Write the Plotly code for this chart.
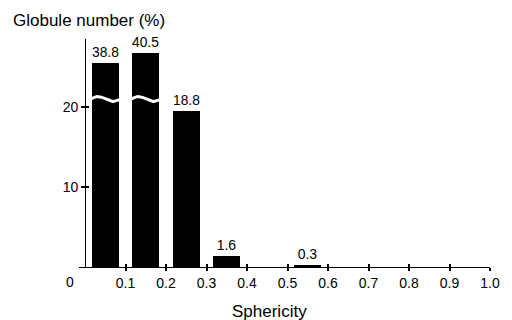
import numpy as np
import plotly.graph_objects as go

# ---- data ----
bin_centers = [0.05, 0.15, 0.25, 0.35, 0.55]
bar_heights_drawn = [25.5, 26.8, 19.5, 1.4, 0.3]   # heights as drawn (axis broken above ~21)
bar_labels = ["38.8", "40.5", "18.8", "1.6", "0.3"]
broken_bars = [0, 1]                                # bars interrupted by the axis break
break_level = 21.0
x_tick_vals = [0.1, 0.2, 0.3, 0.4, 0.5, 0.6, 0.7, 0.8, 0.9, 1.0]
x_tick_text = ["0.1", "0.2", "0.3", "0.4", "0.5", "0.6", "0.7", "0.8", "0.9", "1.0"]
y_tick_vals = [10, 20]
y_tick_text = ["10", "20"]
x_title = "Sphericity"
y_title = "Globule number (%)"

FONT = "Liberation Sans, Arial, sans-serif"
bar_width = 0.066

fig = go.Figure()
fig.add_trace(go.Bar(
    x=bin_centers, y=bar_heights_drawn, width=bar_width,
    marker=dict(color="black", line=dict(width=0)),
    text=bar_labels, textposition="outside",
    textfont=dict(family=FONT, size=14, color="black"),
    cliponaxis=False, showlegend=False, hoverinfo="skip",
))

# white wavy break marks across the broken bars
for i in broken_bars:
    t = np.linspace(0, 1, 40)
    xs = bin_centers[i] - bar_width / 2 - 0.004 + t * (bar_width + 0.008)
    ys = break_level + 0.3 * np.sin(2 * np.pi * t)
    fig.add_trace(go.Scatter(x=xs, y=ys, mode="lines",
                             line=dict(color="white", width=3),
                             showlegend=False, hoverinfo="skip"))

# invisible trace on overlay axes so that they render
fig.add_trace(go.Scatter(x=[0.5], y=[1], xaxis="x2", yaxis="y2",
                         mode="markers", marker=dict(opacity=0),
                         showlegend=False, hoverinfo="skip"))

ypos = (0 - (-0.015)) / (1.0 - (-0.015))

fig.update_layout(
    width=512, height=320,
    margin=dict(l=79, r=15, t=39, b=53),
    paper_bgcolor="white", plot_bgcolor="white",
    bargap=0,
    font=dict(family=FONT, size=14, color="black"),
    xaxis=dict(range=[-0.015, 1.0], showgrid=False, zeroline=False,
               showline=True, linecolor="black", linewidth=1,
               ticks="outside", ticklen=3, tickwidth=2, tickcolor="black",
               tickvals=x_tick_vals, ticktext=x_tick_text,
               tickfont=dict(family=FONT, size=14, color="black")),
    yaxis=dict(range=[0, 28.5], showgrid=False, zeroline=False,
               anchor="free", position=ypos,
               showline=True, linecolor="black", linewidth=1,
               ticks="outside", ticklen=4, tickwidth=2, tickcolor="black",
               tickvals=y_tick_vals, ticktext=y_tick_text,
               tickfont=dict(family=FONT, size=14, color="black")),
    xaxis2=dict(overlaying="x", matches="x", range=[-0.015, 1.0],
                showgrid=False, zeroline=False, showline=False,
                ticks="inside", ticklen=3, tickwidth=2, tickcolor="black",
                tickvals=x_tick_vals, showticklabels=False, anchor="y"),
    yaxis2=dict(overlaying="y", range=[0, 28.5], anchor="free", position=ypos,
                showgrid=False, zeroline=False, showline=False,
                ticks="inside", ticklen=3, tickwidth=2, tickcolor="black",
                tickvals=y_tick_vals, showticklabels=False),
    annotations=[
        dict(text=y_title, xref="paper", yref="paper", x=-0.165, y=1.083,
             xanchor="left", yanchor="middle", showarrow=False,
             font=dict(family=FONT, size=17, color="black")),
        dict(text=x_title, xref="paper", yref="paper", x=0.464, y=-0.193,
             xanchor="center", yanchor="middle", showarrow=False,
             font=dict(family=FONT, size=17, color="black")),
        dict(text="0", xref="paper", yref="paper", x=-0.0215, y=0, yshift=-5,
             xanchor="center", yanchor="top", showarrow=False,
             font=dict(family=FONT, size=14, color="black")),
    ],
)

fig.write_html("out.html")
